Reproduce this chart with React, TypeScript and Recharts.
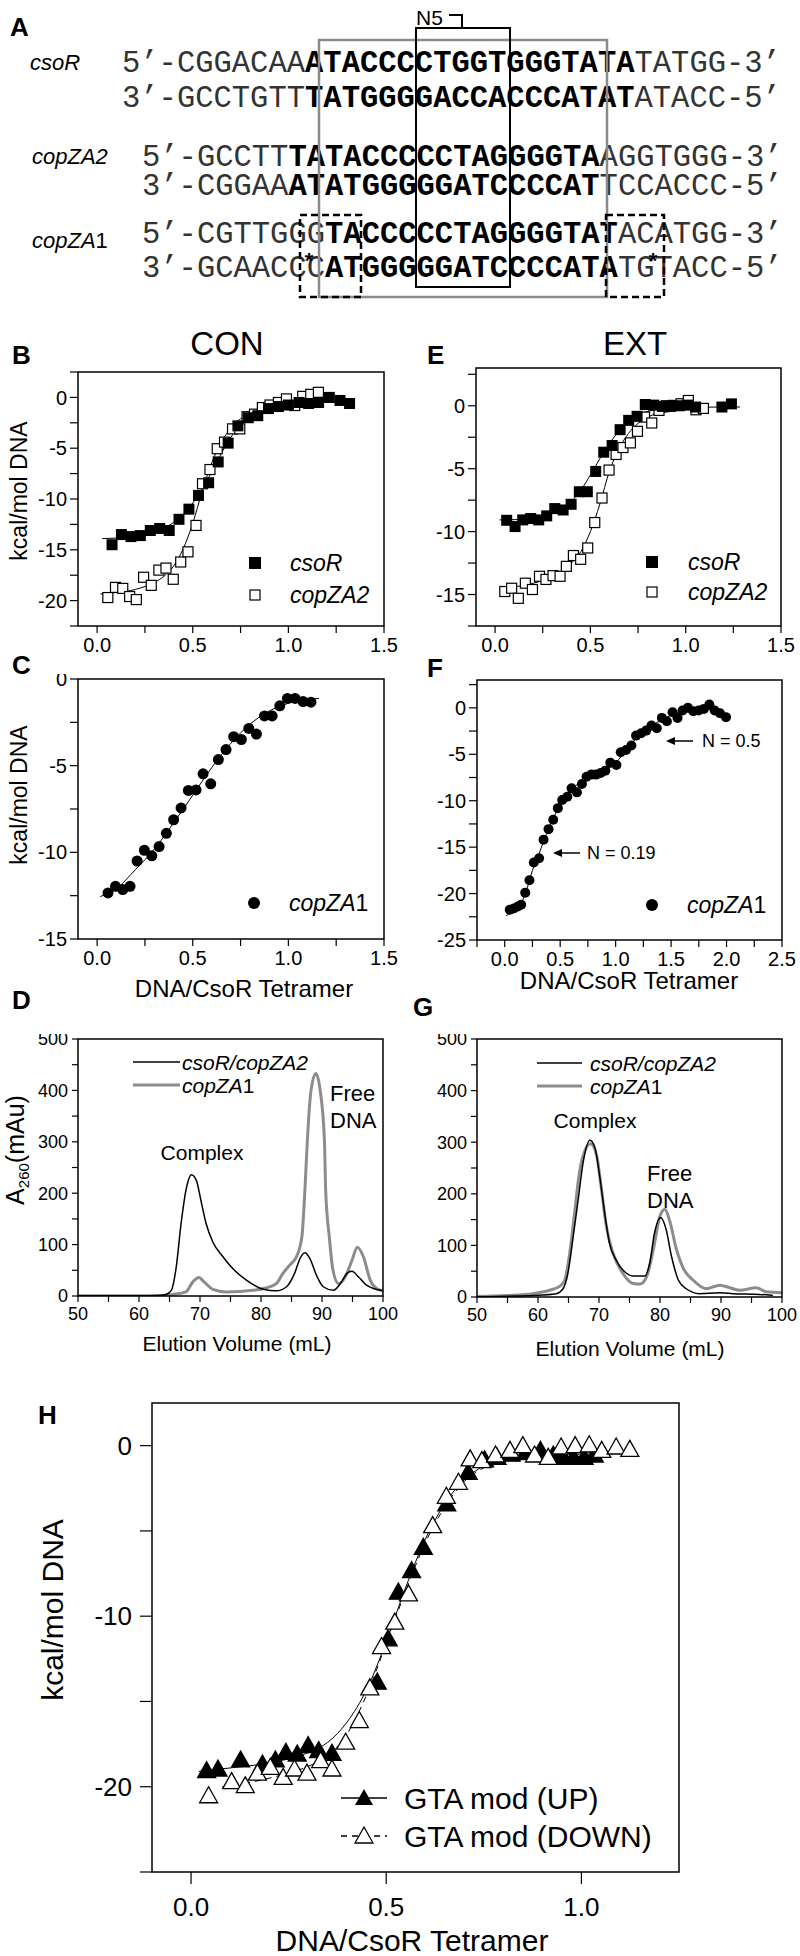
import React from "react";
import { ScatterChart, Scatter, XAxis, YAxis } from "recharts";

const FONT = '"Liberation Sans", Arial, sans-serif';
const MONO = '"Liberation Mono", "Courier New", monospace';

// ---- B: CON, csoR / copZA2 ----
const conCsoR = [[0.078,-14.5],[0.127,-13.5],[0.177,-13.7],[0.226,-13.6],[0.278,-13.1],[0.327,-12.9],[0.377,-13.1],[0.428,-12.0],[0.48,-11.0],[0.53,-9.65],[0.583,-8.4],[0.633,-6.35],[0.685,-4.5],[0.736,-2.8],[0.79,-2.0],[0.84,-1.8],[0.896,-1.1],[0.948,-0.9],[1.0,-0.75],[1.056,-0.5],[1.106,-0.6],[1.158,-0.5],[1.214,0.0],[1.27,-0.3],[1.32,-0.6]];
const conCopZA2 = [[0.056,-19.7],[0.096,-18.7],[0.134,-18.8],[0.17,-19.6],[0.205,-19.9],[0.243,-17.7],[0.283,-18.5],[0.323,-17.0],[0.36,-16.8],[0.398,-17.9],[0.437,-16.2],[0.475,-15.2],[0.517,-12.6],[0.551,-8.5],[0.59,-7.1],[0.628,-5.05],[0.666,-4.4],[0.708,-3.1],[0.746,-3.1],[0.784,-1.9],[0.823,-1.65],[0.864,-1.0],[0.904,-0.75],[0.948,-0.5],[0.99,-0.15],[1.033,-0.8],[1.075,0.1],[1.117,0.3],[1.157,0.5]];
const conCsoRFit = [[0.026,-13.9],[0.1,-13.85],[0.2,-13.7],[0.3,-13.3],[0.4,-12.3],[0.45,-11.5],[0.5,-10.4],[0.55,-9.0],[0.6,-7.3],[0.65,-5.5],[0.7,-3.9],[0.75,-2.7],[0.8,-1.9],[0.9,-1.05],[1.0,-0.7],[1.1,-0.55],[1.2,-0.5],[1.33,-0.5]];
const conCopZA2Fit = [[0.017,-19.35],[0.1,-19.2],[0.2,-18.9],[0.3,-18.2],[0.35,-17.6],[0.4,-16.6],[0.45,-14.9],[0.5,-12.4],[0.55,-9.2],[0.6,-6.4],[0.65,-4.4],[0.7,-3.0],[0.75,-2.1],[0.8,-1.5],[0.9,-0.9],[1.0,-0.6],[1.1,-0.45],[1.16,-0.4]];

// ---- E: EXT, csoR / copZA2 ----
const extCsoR = [[0.061,-9.1],[0.105,-9.6],[0.145,-9.07],[0.187,-8.96],[0.229,-9.07],[0.271,-8.75],[0.313,-8.17],[0.357,-8.28],[0.399,-7.83],[0.442,-6.83],[0.484,-6.83],[0.528,-5.22],[0.57,-3.69],[0.614,-3.16],[0.656,-1.9],[0.701,-1.16],[0.745,-0.84],[0.788,0.1],[0.832,0.05],[0.878,-0.05],[0.921,-0.05],[0.967,0.0],[1.009,0.05],[1.052,-0.1],[1.19,-0.1],[1.24,0.15]];
const extCopZA2 = [[0.051,-14.76],[0.087,-14.5],[0.122,-15.3],[0.159,-14.1],[0.196,-14.6],[0.233,-13.55],[0.267,-13.8],[0.304,-13.5],[0.341,-13.55],[0.374,-12.76],[0.411,-11.9],[0.449,-12.2],[0.486,-11.3],[0.523,-9.28],[0.561,-7.33],[0.598,-5.11],[0.635,-3.87],[0.671,-3.32],[0.71,-2.95],[0.747,-2.03],[0.784,-0.9],[0.822,-1.37],[0.86,-0.37],[0.899,0.0],[0.935,0.03],[0.976,0.16],[1.014,0.42],[1.054,-0.32],[1.093,-0.21]];
const extCsoRFit = [[0.023,-9.07],[0.1,-9.05],[0.2,-9.0],[0.3,-8.5],[0.4,-7.6],[0.45,-6.7],[0.5,-5.5],[0.55,-4.2],[0.6,-3.0],[0.65,-2.0],[0.7,-1.2],[0.75,-0.7],[0.8,-0.45],[0.9,-0.25],[1.0,-0.15],[1.2,-0.1],[1.285,-0.1]];
const extCopZA2Fit = [[0.023,-14.55],[0.1,-14.4],[0.2,-14.1],[0.3,-13.6],[0.4,-12.5],[0.45,-11.6],[0.5,-10.0],[0.55,-7.8],[0.6,-5.2],[0.65,-3.4],[0.7,-2.2],[0.75,-1.4],[0.8,-0.9],[0.9,-0.5],[1.0,-0.3],[1.1,-0.25]];

// ---- C: CON, copZA1 ----
const conCopZA1 = [[0.057,-12.34],[0.096,-11.96],[0.134,-12.15],[0.172,-11.96],[0.209,-10.5],[0.247,-9.88],[0.286,-10.2],[0.324,-9.67],[0.362,-8.9],[0.4,-8.12],[0.439,-7.44],[0.477,-6.43],[0.517,-6.4],[0.554,-5.47],[0.594,-6.05],[0.634,-4.65],[0.674,-4.07],[0.714,-3.33],[0.754,-3.49],[0.793,-2.85],[0.833,-3.18],[0.875,-2.13],[0.915,-2.13],[0.955,-1.55],[0.995,-1.12],[1.035,-1.12],[1.077,-1.3],[1.118,-1.34]];
const conCopZA1Fit = [[0.017,-12.55],[0.1,-12.1],[0.2,-11.0],[0.3,-9.8],[0.4,-8.3],[0.5,-6.7],[0.6,-5.1],[0.7,-3.7],[0.8,-2.6],[0.9,-1.85],[1.0,-1.4],[1.16,-1.12]];

// ---- F: EXT, copZA1 ----
const extCopZA1 = [[0.045,-21.75],[0.081,-21.6],[0.118,-21.4],[0.148,-21.2],[0.185,-19.9],[0.223,-18.56],[0.262,-16.65],[0.31,-16.2],[0.35,-14.2],[0.395,-13.06],[0.437,-12.05],[0.479,-10.8],[0.518,-9.93],[0.564,-9.57],[0.603,-8.67],[0.651,-9.1],[0.696,-8.2],[0.738,-7.41],[0.78,-7.19],[0.823,-7.19],[0.865,-7.01],[0.907,-6.76],[0.952,-5.9],[1.007,-6.15],[1.046,-4.78],[1.094,-4.53],[1.142,-4.06],[1.184,-2.99],[1.23,-2.73],[1.275,-2.45],[1.323,-1.9],[1.371,-2.19],[1.417,-1.08],[1.462,-1.44],[1.513,-0.47],[1.558,-1.08],[1.603,-0.29],[1.652,0.0],[1.7,-0.36],[1.748,-0.29],[1.796,-0.11],[1.845,0.36],[1.893,-0.29],[1.941,-0.58],[1.995,-1.0]];
const extCopZA1Fit = [[0.012,-22.4],[0.1,-21.6],[0.15,-21.0],[0.2,-19.5],[0.25,-17.5],[0.3,-16.0],[0.35,-14.4],[0.4,-12.9],[0.45,-11.6],[0.5,-10.4],[0.6,-8.8],[0.7,-7.9],[0.8,-7.3],[0.9,-6.8],[1.0,-5.9],[1.1,-4.5],[1.2,-3.1],[1.3,-2.1],[1.4,-1.4],[1.5,-0.8],[1.6,-0.4],[1.7,-0.2],[1.8,-0.1],[1.9,-0.3],[2.0,-0.7]];

// ---- D / G: elution profiles (mL, mAu) ----
const conElutionCsoR = [[50,0.5],[55,0.5],[60,0.5],[63,1],[64.4,3],[65.3,11],[66.1,56],[66.9,141],[67.7,206],[68.6,236],[69.4,225],[70.2,183],[71.0,141],[72.1,105],[73.8,76],[75.4,53],[77.6,31],[80.4,13],[82.5,10],[84.2,18],[85.6,47],[86.4,73],[87.2,84],[88.0,73],[89.1,40],[90.2,18],[91.9,11],[93.0,24],[94.1,44],[94.9,48],[96.0,37],[97.3,21],[100,10]];
const conElutionCopZA1 = [[50,0.5],[60,0.5],[64,1],[65.5,3],[67.7,8],[68.8,27],[69.8,36],[70.7,27],[72.1,13],[74.3,8],[78.7,11],[80.9,16],[82.5,24],[83.6,44],[84.7,60],[85.8,76],[86.7,115],[87.2,206],[87.6,303],[88.2,400],[89.0,433],[89.7,400],[90.4,303],[90.6,206],[91.2,115],[91.8,50],[92.7,24],[93.8,37],[94.9,69],[95.8,95],[96.8,76],[97.9,31],[99.0,14],[100,10]];
const extElutionCsoR = [[50,0],[55,1.5],[59.2,3],[63,6.5],[64.1,16],[64.9,46],[65.7,111],[66.6,190],[67.4,261],[68.5,304],[69.3,291],[70.1,235],[71.0,157],[71.7,105],[72.8,72],[74.5,46],[75.6,40.5],[77.5,40.5],[78.3,65],[79.1,124],[80.1,154],[81.0,131],[81.9,78],[83.0,33],[84.3,16],[86.5,6.5],[89.8,8],[92.0,6.5],[96.3,5],[98.5,3]];
const extElutionCopZA1 = [[50,1],[55,3],[59.2,6.5],[61.9,13],[63.6,21],[64.4,33],[65.2,85],[66.0,163],[66.8,242],[67.7,284],[68.6,297],[69.6,275],[70.4,209],[71.2,137],[72.3,85],[73.9,46],[75.6,26],[76.7,25],[77.8,39],[78.9,92],[80.0,157],[80.8,170],[81.6,147],[82.7,92],[83.8,56],[85.4,33],[87.6,16],[89.8,23],[90.9,20],[93.1,13],[95.8,18],[97.4,10],[100,8]];

// ---- H: GTA mod ----
const gtaUp = [[0.04,-19.06],[0.069,-18.96],[0.127,-18.43],[0.183,-18.67],[0.216,-18.43],[0.243,-17.98],[0.272,-18.08],[0.3,-17.59],[0.327,-17.88],[0.361,-18.04],[0.477,-13.87],[0.505,-11.33],[0.531,-8.59],[0.565,-7.32],[0.595,-5.96],[0.655,-3.42],[0.71,-1.56],[0.752,-0.83],[0.784,-0.69],[0.82,-0.5],[0.856,-0.41],[0.895,-0.28],[0.928,-0.55],[0.954,-0.69],[0.98,-0.69],[1.007,-0.69],[1.033,-0.55]];
const gtaDown = [[0.045,-20.53],[0.104,-19.7],[0.139,-19.94],[0.17,-19.2],[0.203,-18.86],[0.236,-19.45],[0.265,-18.96],[0.297,-19.2],[0.332,-18.47],[0.361,-18.96],[0.396,-17.39],[0.431,-16.12],[0.458,-14.2],[0.488,-11.78],[0.522,-10.35],[0.557,-8.69],[0.619,-4.69],[0.654,-2.97],[0.685,-2.15],[0.715,-0.78],[0.745,-0.88],[0.78,-0.55],[0.817,-0.28],[0.85,0],[0.88,-0.55],[0.915,-0.69],[0.948,-0.08],[0.984,0],[1.02,0.05],[1.052,-0.28],[1.089,-0.08],[1.124,-0.22]];
const gtaUpFit = [[0.02,-19.1],[0.1,-18.9],[0.2,-18.6],[0.3,-18.0],[0.35,-17.4],[0.4,-16.2],[0.45,-14.3],[0.5,-11.5],[0.55,-8.3],[0.6,-5.5],[0.65,-3.4],[0.7,-2.0],[0.75,-1.2],[0.8,-0.8],[0.9,-0.55],[1.0,-0.5],[1.05,-0.5]];
const gtaDownFit = [[0.08,-20.0],[0.2,-19.5],[0.3,-18.8],[0.35,-18.2],[0.4,-16.9],[0.45,-14.6],[0.5,-11.6],[0.55,-8.5],[0.6,-5.7],[0.65,-3.6],[0.7,-2.1],[0.75,-1.3],[0.8,-0.8],[0.9,-0.5],[1.0,-0.4],[1.13,-0.35]];

// ---- ticks ----
const itcXTicks = [0, 0.25, 0.5, 0.75, 1, 1.25, 1.5];
const extF_XTicks = [-0.25, 0, 0.25, 0.5, 0.75, 1, 1.25, 1.5, 1.75, 2, 2.25, 2.5];
const conB_YTicks = [2.5, 0, -2.5, -5, -7.5, -10, -12.5, -15, -17.5, -20, -22.5];
const extE_YTicks = [2.5, 0, -2.5, -5, -7.5, -10, -12.5, -15, -17.5];
const conC_YTicks = [0, -2.5, -5, -7.5, -10, -12.5, -15];
const extF_YTicks = [2.5, 0, -2.5, -5, -7.5, -10, -12.5, -15, -17.5, -20, -22.5, -25];
const elutionXTicks = [50, 55, 60, 65, 70, 75, 80, 85, 90, 95, 100];
const elutionYTicks = [0, 50, 100, 150, 200, 250, 300, 350, 400, 450, 500];
const gtaXTicks = [0, 0.5, 1];
const gtaYTicks = [0, -5, -10, -15, -20, -25];

// ---- panel A sequences: [text, bold] ----
const seqRows: { x: number; y: number; segs: [string, boolean][] }[] = [
  { x: 122, y: 72, segs: [["5’-CGGACAA", false], ["ATACCCCTGGTGGGTATA", true], ["TATGG-3’", false]] },
  { x: 122, y: 107, segs: [["3’-GCCTGTT", false], ["TATGGGGACCACCCATAT", true], ["ATACC-5’", false]] },
  { x: 142, y: 166, segs: [["5’-GCCTT", false], ["TATACCCCCTAGGGGTA", true], ["AGGTGGG-3’", false]] },
  { x: 142, y: 195, segs: [["3’-CGGAA", false], ["ATATGGGGGATCCCCAT", true], ["TCCACCC-5’", false]] },
  { x: 142, y: 243, segs: [["5’-CGTTGGG", false], ["TACCCCCTAGGGGTAT", true], ["ACATGG-3’", false]] },
  { x: 142, y: 277, segs: [["3’-GCAACCC", false], ["ATGGGGGATCCCCATA", true], ["TGTACC-5’", false]] },
];

const pts = (a: number[][]) => a.map(([x, y]) => ({ x, y }));
const half = (v: number) => (Math.abs(v * 2 - Math.round(v * 2)) < 1e-9 ? v.toFixed(1) : "");
const every = (n: number) => (v: number) => (Math.abs(v % n) < 1e-9 ? String(v) : "");

type Box = { l: number; t: number; w: number; h: number };
const BOX: Record<string, Box> = {
  B: { l: 78, t: 372, w: 306, h: 254 },
  C: { l: 78, t: 679, w: 306, h: 260 },
  D: { l: 78, t: 1039, w: 305, h: 257 },
  E: { l: 476, t: 368, w: 305, h: 258 },
  F: { l: 477, t: 680, w: 305, h: 260 },
  G: { l: 477, t: 1039, w: 305, h: 258 },
  H: { l: 152, t: 1403, w: 527, h: 469 },
};

const Blank = () => <g />;
const sqFilled = (p: any) => <rect x={p.cx - 5.5} y={p.cy - 5.5} width={11} height={11} fill="#000" />;
const sqOpen = (p: any) => <rect x={p.cx - 5} y={p.cy - 5} width={10} height={10} fill="#fff" stroke="#000" strokeWidth={1.2} />;
const dot = (r: number) => (p: any) => <circle cx={p.cx} cy={p.cy} r={r} fill="#000" />;
const tri = (filled: boolean) => (p: any) => (
  <path d={`M${p.cx},${p.cy - 9} L${p.cx + 9},${p.cy + 7} L${p.cx - 9},${p.cy + 7} Z`} fill={filled ? "#000" : "#fff"} stroke="#000" strokeWidth={1.3} />
);

function fit(data: number[][], key: string, extra: any = {}) {
  return (
    <Scatter key={key} data={pts(data)} shape={Blank} line={{ stroke: "#000", strokeWidth: 1, ...extra }} lineJointType="monotoneX" isAnimationActive={false} />
  );
}
function marks(data: number[][], key: string, shape: any) {
  return <Scatter key={key} data={pts(data)} shape={shape} isAnimationActive={false} />;
}
function trace(data: number[][], key: string, color: string, width: number) {
  return (
    <Scatter key={key} data={pts(data)} shape={Blank} line={{ stroke: color, strokeWidth: width }} lineJointType="monotoneX" isAnimationActive={false} />
  );
}

type PlotProps = {
  box: Box; xDomain: [number, number]; yDomain: [number, number];
  xTicks: number[]; yTicks: number[]; xFmt: (v: number) => string; yFmt: (v: number) => string;
  fs: number; yw: number; xh: number; tx: number; txm: number; ty: number; tym: number;
  children: React.ReactNode;
};

function Plot(p: PlotProps) {
  const m = { top: 5, right: 25, bottom: 0, left: 0 };
  const W = p.yw + p.box.w + m.right;
  const H = m.top + p.box.h + p.xh;
  const tick = { fontSize: p.fs, fill: "#000", fontFamily: FONT };
  return (
    <div style={{ position: "absolute", left: p.box.l - p.yw, top: p.box.t - m.top, width: W, height: H }}>
      <ScatterChart width={W} height={H} margin={m}>
        <XAxis type="number" dataKey="x" domain={p.xDomain} ticks={p.xTicks} allowDataOverflow interval={0}
          tickFormatter={p.xFmt} height={p.xh} tick={tick} tickLine={{ stroke: "#000", strokeWidth: 1.2 }}
          axisLine={false} tickSize={p.tx} tickMargin={p.txm} />
        <YAxis type="number" dataKey="y" domain={p.yDomain} ticks={p.yTicks} allowDataOverflow interval={0}
          tickFormatter={p.yFmt} width={p.yw} tick={tick} tickLine={{ stroke: "#000", strokeWidth: 1.2 }}
          axisLine={false} tickSize={p.ty} tickMargin={p.tym} />
        {p.children}
      </ScatterChart>
    </div>
  );
}

const T = ({ x, y, s, children, anchor = "start", w = "normal", it = false, rot = false }: any) => (
  <text x={x} y={y} fontSize={s} textAnchor={anchor} fontWeight={w} fontStyle={it ? "italic" : "normal"}
    dominantBaseline="central" transform={rot ? `rotate(-90 ${x} ${y})` : undefined} fill="#000">
    {children}
  </text>
);

function Overlay() {
  return (
    <svg width={800} height={1956} style={{ position: "absolute", left: 0, top: 0, pointerEvents: "none" }} fontFamily={FONT}>
      {/* Panel A */}
      <T x={10} y={27} s={26} w="bold">A</T>
      <T x={30} y={62} s={22} it>csoR</T>
      <T x={32} y={156} s={22} it>copZA2</T>
      <text x={32} y={240} fontSize={22} dominantBaseline="central"><tspan fontStyle="italic">copZA</tspan>1</text>
      {seqRows.map((r, i) => (
        <text key={i} x={r.x} y={r.y} fontFamily={MONO} fontSize={30.5} xmlSpace="preserve">
          {r.segs.map(([s, b], j) => (
            <tspan key={j} fontWeight={b ? "bold" : "normal"} fill={b ? "#000" : "#333"}>{s}</tspan>
          ))}
        </text>
      ))}
      <rect x={319} y={40} width={288} height={257} fill="none" stroke="#8a8a8a" strokeWidth={2.5} />
      <rect x={416} y={28} width={94} height={259} fill="none" stroke="#000" strokeWidth={2} />
      <T x={416} y={17} s={21}>N5</T>
      <path d="M449,15 H462 V28" fill="none" stroke="#000" strokeWidth={2} />
      <rect x={300} y={215} width={61} height={82} fill="none" stroke="#000" strokeWidth={2.5} strokeDasharray="7 4" />
      <rect x={606} y={215} width={58} height={82} fill="none" stroke="#000" strokeWidth={2.5} strokeDasharray="7 4" />
      <T x={309} y={260} s={22} anchor="middle" w="bold">*</T>
      <T x={653} y={260} s={22} anchor="middle" w="bold">*</T>

      {/* panel letters & titles */}
      <T x={12} y={355} s={26} w="bold">B</T>
      <T x={12} y={665} s={26} w="bold">C</T>
      <T x={12} y={1000} s={26} w="bold">D</T>
      <T x={427} y={355} s={26} w="bold">E</T>
      <T x={427} y={668} s={26} w="bold">F</T>
      <T x={413} y={1007} s={26} w="bold">G</T>
      <T x={38} y={1415} s={26} w="bold">H</T>
      <T x={227} y={343} s={33} anchor="middle">CON</T>
      <T x={635} y={343} s={33} anchor="middle">EXT</T>

      {/* axis titles */}
      <T x={19} y={491} s={23} anchor="middle" rot>kcal/mol DNA</T>
      <T x={19} y={795} s={23} anchor="middle" rot>kcal/mol DNA</T>
      <T x={244} y={988} s={24} anchor="middle">DNA/CsoR Tetramer</T>
      <T x={629} y={980} s={24} anchor="middle">DNA/CsoR Tetramer</T>
      <text x={24} y={1150} fontSize={25} textAnchor="middle" transform="rotate(-90 24 1150)">
        A<tspan fontSize={15} dy={5}>260</tspan><tspan dy={-5}>(mAu)</tspan>
      </text>
      <T x={237} y={1343} s={21} anchor="middle">Elution Volume (mL)</T>
      <T x={630} y={1348} s={21} anchor="middle">Elution Volume (mL)</T>
      <T x={52} y={1610} s={30} anchor="middle" rot>kcal/mol DNA</T>
      <T x={412} y={1940} s={30} anchor="middle">DNA/CsoR Tetramer</T>

      {/* frames */}
      {Object.values(BOX).map((b, i) => (
        <rect key={i} x={b.l} y={b.t} width={b.w} height={b.h} fill="none" stroke="#000" strokeWidth={1.5} />
      ))}

      {/* legends B/E */}
      <rect x={249} y={557} width={12} height={12} fill="#000" />
      <T x={290} y={563} s={23} it>csoR</T>
      <rect x={250} y={590} width={10} height={10} fill="#fff" stroke="#000" strokeWidth={1.2} />
      <T x={290} y={595} s={23} it>copZA2</T>
      <rect x={646} y={556} width={12} height={12} fill="#000" />
      <T x={688} y={562} s={23} it>csoR</T>
      <rect x={647} y={587} width={10} height={10} fill="#fff" stroke="#000" strokeWidth={1.2} />
      <T x={688} y={592} s={23} it>copZA2</T>
      {/* legends C/F */}
      <circle cx={254} cy={903} r={6} fill="#000" />
      <text x={289} y={903} fontSize={23} dominantBaseline="central"><tspan fontStyle="italic">copZA</tspan>1</text>
      <circle cx={652} cy={905} r={6} fill="#000" />
      <text x={687} y={905} fontSize={23} dominantBaseline="central"><tspan fontStyle="italic">copZA</tspan>1</text>
      {/* F annotations */}
      <line x1={693} y1={741} x2={672} y2={741} stroke="#000" strokeWidth={1.5} />
      <path d="M666,741 L675,737 L675,745 Z" fill="#000" />
      <T x={702} y={741} s={18}>N = 0.5</T>
      <line x1={580} y1={853} x2={559} y2={853} stroke="#000" strokeWidth={1.5} />
      <path d="M553,853 L562,849 L562,857 Z" fill="#000" />
      <T x={587} y={853} s={18}>N = 0.19</T>
      {/* legends D/G */}
      <line x1={133} y1={1062} x2={180} y2={1062} stroke="#000" strokeWidth={1.5} />
      <T x={182} y={1062} s={21} it>csoR/copZA2</T>
      <line x1={133} y1={1085} x2={180} y2={1085} stroke="#8c8c8c" strokeWidth={3} />
      <text x={182} y={1085} fontSize={21} dominantBaseline="central"><tspan fontStyle="italic">copZA</tspan>1</text>
      <T x={202} y={1152} s={21} anchor="middle">Complex</T>
      <T x={330} y={1093} s={22}>Free</T>
      <T x={330} y={1120} s={22}>DNA</T>
      <line x1={537} y1={1063} x2={582} y2={1063} stroke="#000" strokeWidth={1.5} />
      <T x={590} y={1063} s={21} it>csoR/copZA2</T>
      <line x1={537} y1={1086} x2={582} y2={1086} stroke="#8c8c8c" strokeWidth={3} />
      <text x={590} y={1086} fontSize={21} dominantBaseline="central"><tspan fontStyle="italic">copZA</tspan>1</text>
      <T x={595} y={1120} s={21} anchor="middle">Complex</T>
      <T x={647} y={1173} s={22}>Free</T>
      <T x={647} y={1200} s={22}>DNA</T>
      {/* legend H */}
      <line x1={341} y1={1798} x2={387} y2={1798} stroke="#000" strokeWidth={1.5} />
      <path d="M364,1789 L373,1805 L355,1805 Z" fill="#000" />
      <T x={404} y={1798} s={30}>GTA mod (UP)</T>
      <line x1={341} y1={1836} x2={387} y2={1836} stroke="#000" strokeWidth={1.5} strokeDasharray="6 5" />
      <path d="M364,1827 L373,1843 L355,1843 Z" fill="#fff" stroke="#000" strokeWidth={1.3} />
      <T x={404} y={1836} s={30}>GTA mod (DOWN)</T>
    </svg>
  );
}

export default function App() {
  const itc = { fs: 20, yw: 60, xh: 40, tx: 7, txm: 5, ty: 8, tym: 3 };
  const elu = { fs: 18, yw: 55, xh: 35, tx: 6, txm: 5, ty: 6, tym: 4 };
  return (
    <div style={{ position: "absolute", left: 0, top: 0, width: 800, height: 1956, background: "#fff", fontFamily: FONT }}>
      <Plot box={BOX.B} xDomain={[-0.1, 1.5]} yDomain={[-22.5, 2.5]} xTicks={itcXTicks} yTicks={conB_YTicks} xFmt={half} yFmt={every(5)} {...itc}>
        {[fit(conCsoRFit, "f1"), fit(conCopZA2Fit, "f2"), marks(conCopZA2, "m2", sqOpen), marks(conCsoR, "m1", sqFilled)]}
      </Plot>
      <Plot box={BOX.E} xDomain={[-0.1, 1.5]} yDomain={[-17.5, 3]} xTicks={itcXTicks} yTicks={extE_YTicks} xFmt={half} yFmt={every(5)} {...itc}>
        {[fit(extCsoRFit, "f1"), fit(extCopZA2Fit, "f2"), marks(extCopZA2, "m2", sqOpen), marks(extCsoR, "m1", sqFilled)]}
      </Plot>
      <Plot box={BOX.C} xDomain={[-0.1, 1.5]} yDomain={[-15, 0]} xTicks={itcXTicks} yTicks={conC_YTicks} xFmt={half} yFmt={every(5)} {...itc}>
        {[fit(conCopZA1Fit, "f1"), marks(conCopZA1, "m1", dot(5.5))]}
      </Plot>
      <Plot box={BOX.F} xDomain={[-0.25, 2.5]} yDomain={[-25, 3]} xTicks={extF_XTicks} yTicks={extF_YTicks} xFmt={half} yFmt={every(5)} {...itc}>
        {[fit(extCopZA1Fit, "f1"), marks(extCopZA1, "m1", dot(5))]}
      </Plot>
      <Plot box={BOX.D} xDomain={[50, 100]} yDomain={[0, 500]} xTicks={elutionXTicks} yTicks={elutionYTicks} xFmt={every(10)} yFmt={every(100)} {...elu}>
        {[trace(conElutionCopZA1, "g", "#8c8c8c", 3), trace(conElutionCsoR, "b", "#000", 1.5)]}
      </Plot>
      <Plot box={BOX.G} xDomain={[50, 100]} yDomain={[0, 500]} xTicks={elutionXTicks} yTicks={elutionYTicks} xFmt={every(10)} yFmt={every(100)} {...elu}>
        {[trace(extElutionCopZA1, "g", "#8c8c8c", 3), trace(extElutionCsoR, "b", "#000", 1.5)]}
      </Plot>
      <Plot box={BOX.H} xDomain={[-0.1, 1.25]} yDomain={[-25, 2.5]} xTicks={gtaXTicks} yTicks={gtaYTicks} xFmt={half} yFmt={every(10)}
        fs={26} yw={90} xh={70} tx={12} txm={14} ty={12} tym={8}>
        {[fit(gtaUpFit, "f1"), fit(gtaDownFit, "f2", { strokeDasharray: "6 5" }), marks(gtaUp, "m1", tri(true)), marks(gtaDown, "m2", tri(false))]}
      </Plot>
      <Overlay />
    </div>
  );
}
